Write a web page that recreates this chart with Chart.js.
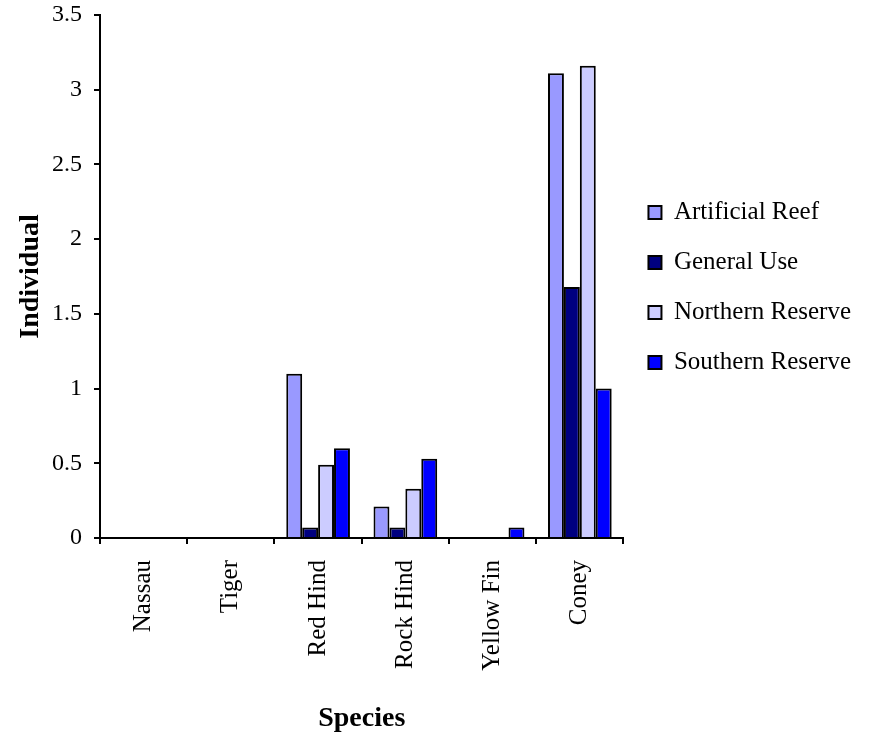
<!DOCTYPE html>
<html>
<head>
<meta charset="utf-8">
<script src="https://cdn.jsdelivr.net/npm/chart.js@4.4.1/dist/chart.umd.min.js"></script>
<style>
  html, body { margin: 0; padding: 0; background: #fff; }
  #wrap { width: 869px; height: 740px; }
</style>
</head>
<body>
<div id="wrap"><canvas id="speciesChart"></canvas></div>
<script>
const species = ['Nassau', 'Tiger', 'Red Hind', 'Rock Hind', 'Yellow Fin', 'Coney']
const artificialReef = [0, 0, 1.1, 0.21, 0, 3.11]
const generalUse = [0, 0, 0.07, 0.07, 0, 1.68]
const northernReserve = [0, 0, 0.49, 0.33, 0, 3.16]
const southernReserve = [0, 0, 0.6, 0.53, 0.07, 1.0]
const yTicks = [0, 0.5, 1, 1.5, 2, 2.5, 3, 3.5]

const serif = "'Liberation Serif', 'Times New Roman', serif"

const makeSet = (label, data, color) => ({
    label: label,
    data: data,
    backgroundColor: color,
    borderColor: '#000',
    borderWidth: 2,
    borderSkipped: 'bottom',
    categoryPercentage: 0.73,
    barPercentage: 1.0
})

let ctx = document.getElementById('speciesChart')

new Chart(ctx, {
    type: 'bar',
    data: {
        labels: species,
        datasets: [
            makeSet('Artificial Reef', artificialReef, '#9999FF'),
            makeSet('General Use', generalUse, '#000080'),
            makeSet('Northern Reserve', northernReserve, '#CCCCFF'),
            makeSet('Southern Reserve', southernReserve, '#0000FF')
        ]
    },
    options: {
        responsive: true,
        maintainAspectRatio: false,
        animation: false,
        layout: { padding: { top: 15, right: 8, left: 0, bottom: 0 } },
        plugins: {
            tooltip: { enabled: false },
            legend: {
                position: 'right',
                align: 'center',
                fullSize: false,
                maxWidth: 260,
                // empty title only nudges the items down a little
                title: { display: true, text: '', font: { size: 10 }, padding: 5 },
                labels: {
                    color: '#000',
                    font: { family: serif, size: 25 },
                    boxWidth: 13,
                    boxHeight: 13,
                    padding: 25
                }
            }
        },
        scales: {
            x: {
                afterFit: (s) => { s.height = 202 },
                grid: {
                    display: true,
                    offset: true,
                    drawOnChartArea: false,
                    drawTicks: true,
                    tickLength: 6,
                    color: '#000',
                    lineWidth: 2
                },
                border: { display: true, color: '#000', width: 2 },
                ticks: {
                    color: '#000',
                    font: { family: serif, size: 25 },
                    minRotation: 90,
                    maxRotation: 90,
                    padding: 16
                },
                title: {
                    display: true,
                    text: 'Species',
                    color: '#000',
                    font: { family: serif, size: 28, weight: 'bold' },
                    padding: { top: 0, bottom: 4 }
                }
            },
            y: {
                min: 0,
                max: 3.5,
                afterFit: (s) => {
                    s.width = 100
                    s.paddingTop = 0
                    s.paddingBottom = 0
                },
                afterBuildTicks: (s) => { s.ticks = yTicks.map(v => ({ value: v })) },
                grid: {
                    display: true,
                    drawOnChartArea: false,
                    drawTicks: true,
                    tickLength: 6,
                    color: '#000',
                    lineWidth: 2
                },
                border: { display: true, color: '#000', width: 2 },
                ticks: {
                    color: '#000',
                    font: { family: serif, size: 24 },
                    padding: 12,
                    callback: (v) => String(v)
                },
                title: {
                    display: true,
                    text: 'Individual',
                    color: '#000',
                    font: { family: serif, size: 28, weight: 'bold' },
                    padding: { top: 14, bottom: 0 }
                }
            }
        }
    }
})
</script>
</body>
</html>
